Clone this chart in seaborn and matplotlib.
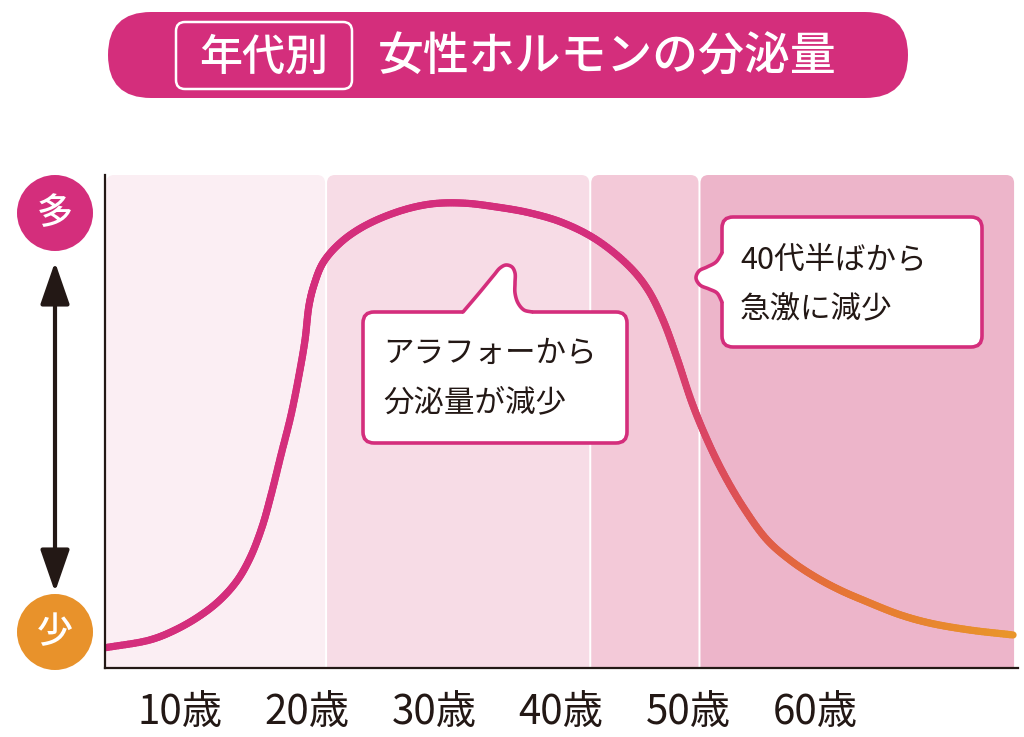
import numpy as np
import matplotlib
matplotlib.use("Agg")
import matplotlib.pyplot as plt
import seaborn as sns
from matplotlib.patches import FancyBboxPatch, Circle, FancyArrowPatch, Polygon
from matplotlib.collections import LineCollection
from matplotlib.colors import to_rgb

# ---------------- data ----------------
title_tag = "年代別"
title_text = "女性ホルモンの分泌量"
y_high_label = "多"
y_low_label = "少"
age_ticks = [10, 20, 30, 40, 50, 60]
age_labels = ["10歳", "20歳", "30歳", "40歳", "50歳", "60歳"]
band_edges = [4.1, 21.5, 42.3, 50.9, 75.75]
band_colors = ["#FBEEF3", "#F7DCE6", "#F3C9D8", "#EDB5CA"]
ages = [4.09, 7.64, 9.61, 11.57, 13.15, 14.49, 15.51, 16.46, 17.17, 17.95,
        18.74, 19.37, 19.84, 20.16, 20.55, 21.26, 22.60, 24.41, 27.09, 29.69,
        32.28, 34.96, 37.56, 40.16, 42.83, 45.43, 46.85, 48.03, 49.13, 50.31,
        51.50, 52.76, 54.33, 56.22, 58.03, 60.00, 61.97, 63.94, 66.69, 69.06,
        72.20, 75.59]
levels = [4.1, 5.7, 7.7, 10.6, 13.8, 17.7, 22.3, 28.6, 35.1, 43.2,
          51.3, 59.4, 66.5, 73.6, 77.7, 82.2, 86.2, 89.5, 92.5, 94.1,
          94.3, 93.5, 92.3, 90.3, 86.8, 81.3, 76.7, 70.6, 62.9, 53.8,
          46.3, 39.6, 32.7, 26.0, 21.9, 18.5, 15.8, 13.6, 10.8, 9.1,
          7.7, 6.7]
note1_lines = ["アラフォーから", "分泌量が減少"]
note2_lines = ["40代半ばから", "急激に減少"]

# gradient stops (age -> colour) for the curve
grad_ages = [4.0, 44.0, 50.0, 54.0, 58.0, 63.0, 76.0]
grad_colors = ["#D42E7C", "#D42E7C", "#D83F6C", "#DD5254", "#E26541", "#E67734", "#E9962A"]

PINK = "#D42E7C"
ORANGE = "#E8922B"
INK = "#231815"


def smooth_path(xs, ys, n=14, yscale=1.0, alpha=0.5):
    """Centripetal Catmull-Rom rendering through the given points (drawing only)."""
    P = np.column_stack([np.asarray(xs, float), np.asarray(ys, float) * yscale])
    P = np.vstack([2 * P[0] - P[1], P, 2 * P[-1] - P[-2]])
    out = []
    for i in range(1, len(P) - 2):
        p0, p1, p2, p3 = P[i - 1], P[i], P[i + 1], P[i + 2]
        t0 = 0.0
        t1 = t0 + max(np.linalg.norm(p1 - p0), 1e-6) ** alpha
        t2 = t1 + max(np.linalg.norm(p2 - p1), 1e-6) ** alpha
        t3 = t2 + max(np.linalg.norm(p3 - p2), 1e-6) ** alpha
        t = np.linspace(t1, t2, n, endpoint=False)[:, None]
        a1 = (t1 - t) / (t1 - t0) * p0 + (t - t0) / (t1 - t0) * p1
        a2 = (t2 - t) / (t2 - t1) * p1 + (t - t1) / (t2 - t1) * p2
        a3 = (t3 - t) / (t3 - t2) * p2 + (t - t2) / (t3 - t2) * p3
        b1 = (t2 - t) / (t2 - t0) * a1 + (t - t0) / (t2 - t0) * a2
        b2 = (t3 - t) / (t3 - t1) * a2 + (t - t1) / (t3 - t1) * a3
        out.append((t2 - t) / (t2 - t1) * b1 + (t - t1) / (t2 - t1) * b2)
    out.append(P[-2][None])
    Q = np.vstack(out)
    Q[:, 1] /= yscale
    return Q


# ---------------- style ----------------
sns.set_theme(style="white")
plt.rcParams["font.family"] = ["Noto Sans CJK JP", "DejaVu Sans"]

fig = plt.figure(figsize=(10.24, 7.37), dpi=100)
fig.patch.set_facecolor("white")

W, H = 1024, 737
ax_left, ax_right, ax_top, ax_bottom = 105, 1018, 175, 668
ax = fig.add_axes([ax_left / W, (H - ax_bottom) / H,
                   (ax_right - ax_left) / W, (ax_bottom - ax_top) / H])
ax.set_facecolor("white")
ax.set_xlim(4.094, 75.98)
ax.set_ylim(0, 100)

# background bands with rounded top corners
px_per_x = (ax_right - ax_left) / (75.98 - 4.094)
px_per_y = (ax_bottom - ax_top) / 100.0
gap = 1.0 / px_per_x
for x0, x1, c in zip(band_edges[:-1], band_edges[1:], band_colors):
    r = 8.0 / px_per_x
    patch = FancyBboxPatch((x0 + gap, -10), (x1 - x0) - 2 * gap, 110,
                           boxstyle=f"round,pad=0,rounding_size={r}",
                           mutation_aspect=px_per_x / px_per_y,
                           fc=c, ec="none", zorder=0)
    ax.add_patch(patch)

# curve: seaborn line through the read points + gradient rendering on top
sns.lineplot(x=ages, y=levels, ax=ax, sort=False, color=PINK, lw=2.0, zorder=2)
Q = smooth_path(ages, levels, yscale=px_per_y / px_per_x)
pts = Q.reshape(-1, 1, 2)
segs = np.concatenate([pts[:-1], pts[1:]], axis=1)
mid = (Q[:-1, 0] + Q[1:, 0]) / 2
rgbs = np.array([to_rgb(c) for c in grad_colors])
seg_cols = np.column_stack([np.interp(mid, grad_ages, rgbs[:, k]) for k in range(3)])
lc = LineCollection(segs, colors=seg_cols, linewidths=5.2, capstyle="round",
                    joinstyle="round", zorder=3)
ax.add_collection(lc)

ax.set_xticks(age_ticks, age_labels)
ax.set_yticks([])
ax.tick_params(axis="x", length=0, pad=17, labelsize=29, colors=INK)
ax.set_xlabel("")
ax.set_ylabel("")
sns.despine(ax=ax)
for s in ("left", "bottom"):
    ax.spines[s].set_color(INK)
    ax.spines[s].set_linewidth(1.6)
    ax.spines[s].set_zorder(4)

# ---------------- overlay (decorations) ----------------
ov = fig.add_axes([0, 0, 1, 1], zorder=5)
ov.set_xlim(0, W)
ov.set_ylim(H, 0)
ov.axis("off")
ov.patch.set_alpha(0)

# title banner
ov.add_patch(FancyBboxPatch((108, 12), 800, 86, boxstyle="round,pad=0,rounding_size=43",
                            fc=PINK, ec="none"))
ov.add_patch(FancyBboxPatch((176, 22), 176, 67, boxstyle="round,pad=0,rounding_size=9",
                            fc="none", ec="white", lw=1.8))
ov.text(264, 57, title_tag, color="white", fontsize=31, ha="center", va="center",
        fontweight="medium")
ov.text(378, 57, title_text, color="white", fontsize=33, ha="left", va="center",
        fontweight="medium")

# y indicator circles and arrow
ov.add_patch(Circle((55, 213), 38, fc=PINK, ec="none"))
ov.text(55, 214, y_high_label, color="white", fontsize=26, ha="center", va="center",
        fontweight="medium")
ov.add_patch(Circle((55, 632), 38, fc=ORANGE, ec="none"))
ov.text(55, 633, y_low_label, color="white", fontsize=26, ha="center", va="center",
        fontweight="medium")
ov.add_patch(FancyArrowPatch((55, 262), (55, 592),
                             arrowstyle="<|-|>,head_length=2.6,head_width=0.9",
                             mutation_scale=10, lw=3, color=INK,
                             shrinkA=0, shrinkB=0))


def bubble(rect, tail, cover, lines, text_x, text_y0, dy):
    x, y, w, h = rect
    ov.add_patch(FancyBboxPatch((x, y), w, h, boxstyle="round,pad=0,rounding_size=11",
                                fc="white", ec=PINK, lw=2.6, zorder=1))
    tx, ty = zip(*tail)
    T = smooth_path(tx, ty, n=10)
    ov.add_patch(Polygon(np.vstack([T, cover]), closed=True, fc="white", ec="none", zorder=2))
    ov.plot(T[:, 0], T[:, 1], color=PINK, lw=2.6, solid_joinstyle="round",
            solid_capstyle="round", zorder=3)
    for i, t in enumerate(lines):
        ov.text(text_x, text_y0 + i * dy, t, color=INK, fontsize=22,
                ha="left", va="center", zorder=4)


bubble((363, 312, 264, 131),
       [(463, 312), (480, 292), (494, 275), (500, 268), (506, 265), (512, 267),
        (515, 273), (515, 283), (515, 293), (518, 303), (524, 310), (532, 312)],
       [(532, 316), (463, 316)],
       note1_lines, 383, 353, 50)
bubble((722, 217, 260, 130),
       [(722, 253), (716, 262), (707, 267), (699, 271), (696, 278), (700, 285),
        (709, 289), (717, 293), (722, 302)],
       [(726, 302), (726, 253)],
       note2_lines, 740, 260, 50)

fig.savefig("out.png", dpi=100, facecolor="white")
